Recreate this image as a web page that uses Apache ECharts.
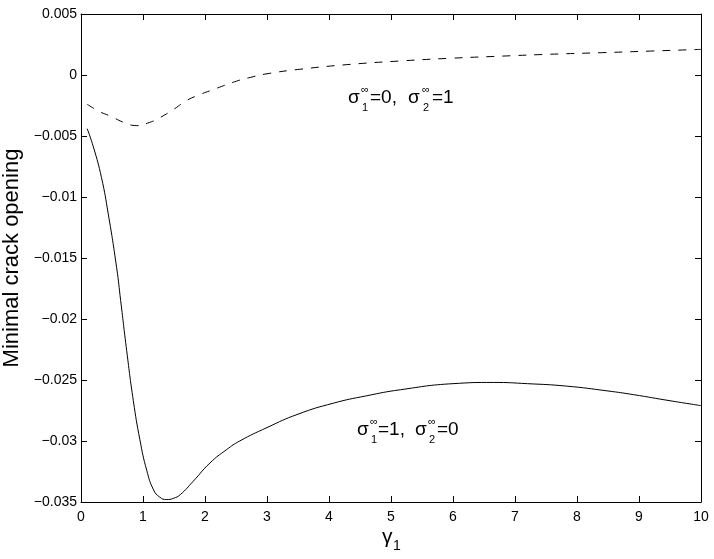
<!DOCTYPE html>
<html>
<head>
<meta charset="utf-8">
<script src="https://cdn.jsdelivr.net/npm/echarts@6/dist/echarts.min.js"></script>
<style>html,body{margin:0;padding:0;background:#fff;}#c{width:714px;height:559px;}</style>
</head>
<body>
<div id="c"></div>
<script>
const solidX = [0.1, 0.2, 0.33, 0.44, 0.575, 0.64, 0.737, 0.844, 0.95, 1.06, 1.17, 1.27, 1.38, 1.49, 1.6, 1.81, 2.08, 2.35, 2.56, 3.0, 3.5, 4.07, 4.6, 5.15, 6.0, 6.65, 7.2, 7.83, 8.5, 8.91, 9.5, 10];
const solidY = [-0.0044, -0.0059, -0.0084, -0.0114, -0.0158, -0.0185, -0.0226, -0.0267, -0.0299, -0.0324, -0.0340, -0.0346, -0.0348, -0.0347, -0.0344, -0.0333, -0.0318, -0.0307, -0.0300, -0.0289, -0.0278, -0.0269, -0.0263, -0.0258, -0.0253, -0.0252, -0.0253, -0.0255, -0.0259, -0.0262, -0.0267, -0.0271];
const dashX = [0.1, 0.3, 0.47, 0.7, 0.9, 1.1, 1.27, 1.5, 1.7, 1.92, 2.13, 2.51, 2.73, 3.0, 3.53, 4.34, 5.15, 5.95, 6.8, 7.56, 8.4, 9.18, 10];
const dashY = [-0.0024, -0.0030, -0.00336, -0.0039, -0.00415, -0.0039, -0.0035, -0.0028, -0.0021, -0.0016, -0.0012, -0.0005, -0.0002, 0.0001, 0.00047, 0.00087, 0.00115, 0.00137, 0.00155, 0.0017, 0.00183, 0.00196, 0.0021];
const xTicks = [0, 1, 2, 3, 4, 5, 6, 7, 8, 9, 10];
const yTickLabels = ['0.005', '0', '\u22120.005', '\u22120.01', '\u22120.015', '\u22120.02', '\u22120.025', '\u22120.03', '\u22120.035'];
const yLabel = 'Minimal crack opening';

const FONT = '"Liberation Sans", Arial, Helvetica, sans-serif';
const pair = (xs, ys) => xs.map((x, i) => [x, ys[i]]);

function yFmt(v) {
  const idx = Math.round((0.005 - v) / 0.005);
  return yTickLabels[idx] !== undefined ? yTickLabels[idx] : String(v);
}
function xFmt(v) {
  const idx = xTicks.indexOf(Math.round(v));
  return idx >= 0 ? String(xTicks[idx]) : String(v);
}

function t(x, y, s, size) {
  return { type: 'text', x: x, y: y, style: { text: s, font: size + 'px ' + FONT, fill: '#000', verticalAlign: 'middle' } };
}
function sigmaLabel(p, base) {
  const m = base - 7, sub = base + 3, sup = base - 15;
  return [
    t(p[0], m, '\u03c3', 19),
    t(p[1], sup, '\u221e', 11),
    t(p[1] + 1, sub, '1', 11),
    t(p[2], m, p[6], 19),
    t(p[3], m, '\u03c3', 19),
    t(p[4], sup, '\u221e', 11),
    t(p[4] + 1, sub, '2', 11),
    t(p[5], m, p[7], 19)
  ];
}

const chart = echarts.init(document.getElementById('c'), null, { renderer: 'canvas' });
const axisLine = { show: true, onZero: false, lineStyle: { color: '#000', width: 1 } };
const tick = { show: true, inside: true, length: 6, lineStyle: { color: '#000', width: 1 } };

chart.setOption({
  animation: false,
  backgroundColor: '#fff',
  grid: { left: 81, top: 14, width: 620, height: 488, containLabel: false, outerBoundsMode: 'none' },
  xAxis: [
    { type: 'value', min: 0, max: 10, interval: 1, position: 'bottom',
      axisLine: axisLine, axisTick: tick, splitLine: { show: false },
      axisLabel: { color: '#000', fontFamily: FONT, fontSize: 14, margin: 8, formatter: xFmt } },
    { type: 'value', min: 0, max: 10, interval: 1, position: 'top',
      axisLine: axisLine, axisTick: tick, splitLine: { show: false }, axisLabel: { show: false } }
  ],
  yAxis: [
    { type: 'value', min: -0.035, max: 0.005, interval: 0.005, position: 'left',
      axisLine: axisLine, axisTick: tick, splitLine: { show: false },
      axisLabel: { color: '#000', fontFamily: FONT, fontSize: 14, margin: 4, formatter: yFmt },
      name: yLabel, nameLocation: 'middle', nameGap: 56, nameRotate: 90,
      nameTextStyle: { color: '#000', fontFamily: FONT, fontSize: 22 } },
    { type: 'value', min: -0.035, max: 0.005, interval: 0.005, position: 'right',
      axisLine: axisLine, axisTick: tick, splitLine: { show: false }, axisLabel: { show: false } }
  ],
  series: [
    { type: 'line', data: pair(solidX, solidY), smooth: 0.5, showSymbol: false,
      lineStyle: { color: '#000', width: 1 } },
    { type: 'line', data: pair(dashX, dashY), smooth: 0.5, showSymbol: false,
      lineStyle: { color: '#000', width: 1, type: [8, 8] } }
  ],
  graphic: [
    ...sigmaLabel([348, 361, 370, 408, 422, 432, '=0,', '=1'], 105),
    ...sigmaLabel([357, 370, 378, 415, 428, 437, '=1,', '=0'], 437),
    t(382, 537, '\u03b3', 21),
    t(393, 546, '1', 14)
  ]
});
</script>
</body>
</html>
